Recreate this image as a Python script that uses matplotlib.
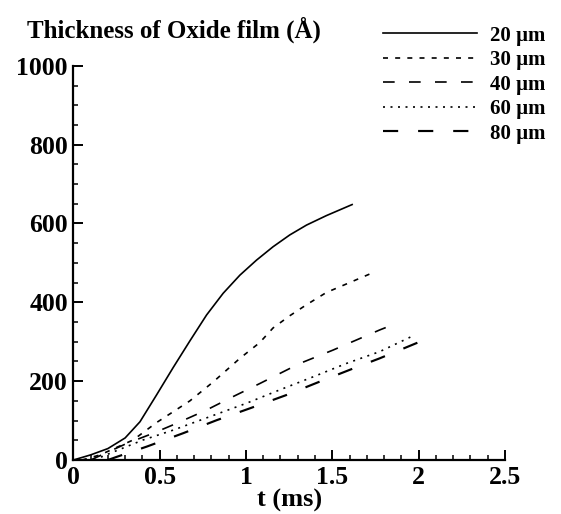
import matplotlib.pyplot as plt
from matplotlib.ticker import MultipleLocator

# thickness of oxide film (Angstrom) vs time (ms) for several particle sizes
labels = ['20 \u00b5m', '30 \u00b5m', '40 \u00b5m', '60 \u00b5m', '80 \u00b5m']

t20 = [0.0, 0.1, 0.2, 0.3, 0.386, 0.482, 0.579, 0.675, 0.772, 0.868, 0.965,
       1.061, 1.157, 1.254, 1.351, 1.466, 1.615]
y20 = [0, 13, 29, 56, 97, 165, 235, 302, 368, 423, 469, 507, 541, 571, 596, 620, 648]

t30 = [0.05, 0.155, 0.347, 0.482, 0.675, 0.81, 0.965, 1.08, 1.157, 1.254,
       1.351, 1.466, 1.611, 1.75]
y30 = [0, 13, 51, 95, 150, 198, 258, 298, 335, 366, 394, 425, 452, 478]

t40 = [0.1, 0.309, 0.463, 0.598, 0.772, 0.926, 1.08, 1.312, 1.505, 1.775, 1.833]
y40 = [0, 42, 68, 93, 127, 161, 194, 245, 279, 330, 340]

t60 = [0.12, 0.212, 0.405, 0.579, 0.791, 1.003, 1.196, 1.389, 1.582, 1.775, 1.958]
y60 = [0, 17, 51, 76, 110, 144, 178, 211, 245, 275, 313]

t80 = [0.2, 0.251, 0.425, 0.636, 0.83, 1.022, 1.235, 1.428, 1.62, 1.775, 2.04]
y80 = [0, 8, 34, 68, 101, 131, 165, 199, 232, 258, 306]

plt.rcParams['font.family'] = ['Liberation Serif', 'DejaVu Serif']
plt.rcParams['font.weight'] = 'bold'

fig = plt.figure(figsize=(5.61, 5.14), dpi=100)
ax = fig.add_axes([0.1307, 0.105, 0.7693, 0.767])

lw = 1.2
ax.plot(t20, y20, color='black', lw=lw, linestyle='-', label=labels[0])
ax.plot(t30, y30, color='black', lw=lw, linestyle=(0, (3.0, 4.3)), label=labels[1])
ax.plot(t40, y40, color='black', lw=lw, linestyle=(0, (7.0, 8.6)), label=labels[2])
ax.plot(t60, y60, color='black', lw=lw, linestyle=(0, (1.2, 3.3)), label=labels[3])
ax.plot(t80, y80, color='black', lw=lw * 1.3, linestyle=(0, (7.0, 9.2)), label=labels[4])

ax.set_xlim(0, 2.5)
ax.set_ylim(0, 1000)
ax.xaxis.set_major_locator(MultipleLocator(0.5))
ax.xaxis.set_minor_locator(MultipleLocator(0.1))
ax.yaxis.set_major_locator(MultipleLocator(200))
ax.yaxis.set_minor_locator(MultipleLocator(50))
ax.xaxis.set_major_formatter(plt.FuncFormatter(lambda v, p: f'{v:g}'))

for s in ['top', 'right']:
    ax.spines[s].set_visible(False)
for s in ['left', 'bottom']:
    ax.spines[s].set_linewidth(1.6)

ax.tick_params(which='major', direction='in', length=7, width=1.4, labelsize=18.5, pad=4)
ax.tick_params(which='minor', direction='in', length=3.5, width=1.1)
for lab in ax.get_xticklabels() + ax.get_yticklabels():
    lab.set_fontweight('bold')

ax.set_xlabel('t (ms)', fontsize=19, fontweight='bold', labelpad=0)
fig.text(0.048, 0.942, 'Thickness of Oxide film (\u00c5)', fontsize=18,
         fontweight='bold', ha='left', va='center')

leg = fig.legend(loc='upper left', bbox_to_anchor=(383 / 561, 0.950), frameon=False,
                 prop={'size': 15, 'weight': 'bold'}, handlelength=4.5,
                 handletextpad=0.65, labelspacing=0.215, borderpad=0,
                 borderaxespad=0)

fig.savefig('out.png', dpi=100)
